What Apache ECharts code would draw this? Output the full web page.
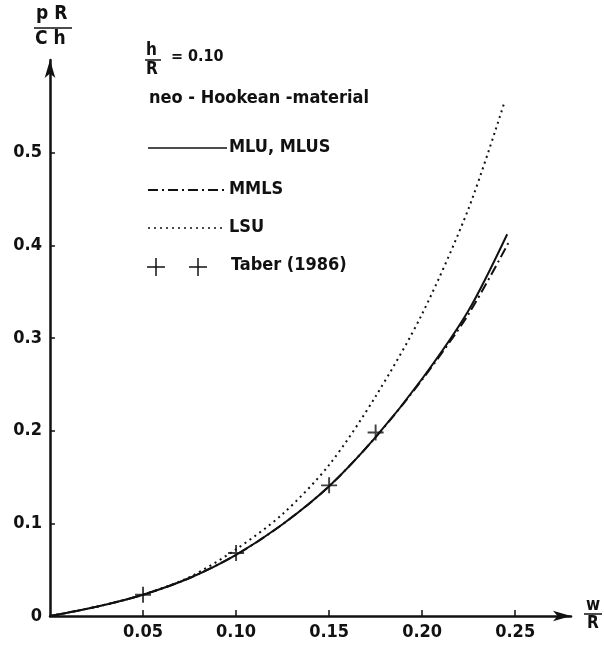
<!DOCTYPE html>
<html style="height:100%;">
<head>
  <meta charset="utf-8">
  <script src="https://cdn.jsdelivr.net/npm/echarts@6/dist/echarts.min.js"></script>
  <style>
    body { margin: 0; background: #fff; }
    #chart { width: 604px; height: 651px; }
  </style>
</head>
<body>
  <div id="chart"></div>
  <script>
    // w/R values and pR/(Ch) values
    const mluData = [[0, 0], [0.025, 0.010], [0.05, 0.023], [0.075, 0.041], [0.10, 0.066], [0.125, 0.099],
      [0.15, 0.140], [0.175, 0.193], [0.20, 0.256], [0.225, 0.330], [0.2457, 0.412]];
    const mmlsData = [[0, 0], [0.025, 0.010], [0.05, 0.023], [0.075, 0.041], [0.10, 0.066], [0.125, 0.099],
      [0.15, 0.140], [0.175, 0.193], [0.20, 0.255], [0.225, 0.326], [0.2470, 0.405]];
    const lsuData = [[0, 0], [0.025, 0.010], [0.05, 0.023], [0.075, 0.042], [0.10, 0.072], [0.125, 0.110],
      [0.15, 0.163], [0.175, 0.237], [0.20, 0.326], [0.225, 0.440], [0.244, 0.553]];
    const taberData = [[0.05, 0.023], [0.10, 0.068], [0.15, 0.141], [0.175, 0.198]];

    const xTicks = [0.05, 0.10, 0.15, 0.20, 0.25];
    const yTicks = [0, 0.1, 0.2, 0.3, 0.4, 0.5];

    const FONT = '"DejaVu Sans Condensed", "DejaVu Sans"';
    const plus = 'path://M4.4,0h1.2v10h-1.2zM0,4.4h10v1.2h-10z';

    const chart = echarts.init(document.getElementById('chart'));

    // text with its top-left corner at (x, y)
    const txt = (x, y, text, size) => ({
      type: 'text', x: x, y: y,
      style: { text: text, fill: '#111', font: 'bold ' + (size || 18) + 'px ' + FONT, textVerticalAlign: 'top' }
    });
    const seg = (x1, y1, x2, y2, lineDash, w) => ({
      type: 'line', shape: { x1: x1, y1: y1, x2: x2, y2: y2 },
      style: { stroke: '#111', lineWidth: w || 1.5, lineDash: lineDash || null }
    });

    const option = {
      backgroundColor: '#fff',
      animation: false,
      grid: { left: 50, right: 33, top: 60, bottom: 35 },
      xAxis: {
        type: 'value', min: 0, max: 0.28,
        splitLine: { show: false },
        axisLine: { lineStyle: { color: '#111', width: 2.5 }, symbol: ['none', 'arrow'], symbolSize: [8, 18] },
        axisTick: { show: true, inside: true, length: 6, lineStyle: { color: '#111', width: 1.5 }, customValues: xTicks },
        axisLabel: {
          customValues: xTicks, margin: 7, color: '#111', fontFamily: FONT, fontWeight: 'bold', fontSize: 18,
          formatter: v => v.toFixed(2)
        }
      },
      yAxis: {
        type: 'value', min: 0, max: 0.6,
        splitLine: { show: false },
        axisLine: { lineStyle: { color: '#111', width: 2.5 }, symbol: ['none', 'arrow'], symbolSize: [8, 18] },
        axisTick: { show: true, inside: true, length: 5, lineStyle: { color: '#111', width: 1.5 }, customValues: yTicks.slice(1) },
        axisLabel: {
          customValues: yTicks, margin: 8, color: '#111', fontFamily: FONT, fontWeight: 'bold', fontSize: 18,
          formatter: v => v === 0 ? '0' : v.toFixed(1)
        }
      },
      series: [
        {
          name: 'LSU', type: 'line', data: lsuData, smooth: 0.3, symbol: 'none',
          lineStyle: { color: '#111', width: 2, type: [2, 4] }
        },
        {
          name: 'MMLS', type: 'line', data: mmlsData, smooth: 0.3, symbol: 'none',
          lineStyle: { color: '#111', width: 2, type: [10, 4, 2, 4] }
        },
        {
          name: 'MLU, MLUS', type: 'line', data: mluData, smooth: 0.3, symbol: 'none',
          lineStyle: { color: '#111', width: 2 }
        },
        {
          name: 'Taber (1986)', type: 'scatter', data: taberData, symbol: plus, symbolSize: 16,
          itemStyle: { color: '#111' }
        }
      ],
      graphic: [
        // y axis label pR / Ch
        txt(36, 5, 'p R', 19),
        seg(34, 28, 72, 28),
        txt(35, 30, 'C h', 19),
        // x axis label w / R
        txt(586, 597, 'w', 17),
        seg(584, 614, 602, 614),
        txt(587, 615, 'R', 17),
        // h / R = 0.10
        txt(146, 42, 'h', 17),
        seg(145, 60, 161, 60),
        txt(146, 61, 'R', 17),
        txt(171, 49, '= 0.10', 16),
        txt(149, 89, 'neo - Hookean -material', 18),
        // legend
        seg(148, 148, 227, 148),
        txt(229, 138, 'MLU, MLUS'),
        seg(148, 190, 227, 190, [10, 4, 2, 4], 2),
        txt(229, 180, 'MMLS'),
        seg(148, 228, 222, 228, [2, 4], 1.5),
        txt(229, 218, 'LSU'),
        seg(156, 258, 156, 276), seg(147, 267, 165, 267),
        seg(198, 258, 198, 276), seg(189, 267, 207, 267),
        txt(231, 256, 'Taber (1986)')
      ]
    };

    chart.setOption(option);
  </script>
</body>
</html>
